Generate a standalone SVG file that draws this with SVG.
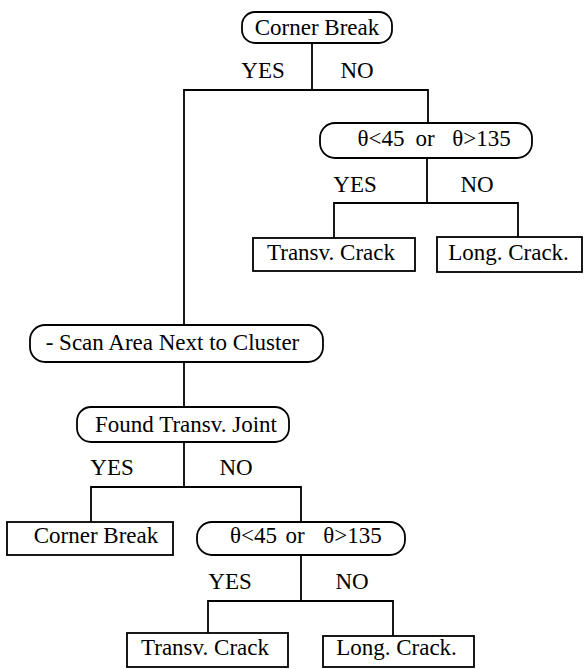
<svg xmlns="http://www.w3.org/2000/svg" width="585" height="669" viewBox="0 0 585 669">
  <style>
    .box { fill: #fff; stroke: #000; stroke-width: 1.8; }
    .wire { fill: none; stroke: #000; stroke-width: 1.8; stroke-linecap: square; }
    text { font-family: "Liberation Serif", "Times New Roman", serif; font-size: 23px; fill: #000; text-anchor: middle; }
  </style>
  <rect width="585" height="669" fill="#fff"/>

  <!-- connectors -->
  <g id="connectors" class="wire">
    <path d="M312,43 V90 M184,90 H428 M184,90 V325 M428,90 V123"/>
    <path d="M427,158 V203 M334,203 H518 M334,203 V238 M518,203 V237"/>
    <path d="M184,362 V407"/>
    <path d="M184,442 V487 M91,487 H301 M91,487 V522 M301,487 V522"/>
    <path d="M301,555 V601 M208,601 H393 M208,601 V633 M393,601 V636"/>
  </g>

  <!-- branch labels -->
  <g id="labels">
    <text x="263" y="78">YES</text><text x="357" y="78">NO</text>
    <text x="355" y="192">YES</text><text x="477" y="192">NO</text>
    <text x="112" y="475">YES</text><text x="236" y="475">NO</text>
    <text x="230" y="589">YES</text><text x="352" y="589">NO</text>
  </g>

  <g id="corner-break-test">
    <rect class="box" x="242" y="12" width="150" height="31" rx="13"/>
    <text x="317" y="35">Corner Break</text>
  </g>

  <g id="angle-test-1">
    <rect class="box" x="320" y="123" width="212" height="35" rx="15"/>
    <text y="146"><tspan x="381">θ&lt;45</tspan><tspan x="425">or</tspan><tspan x="481.5">θ&gt;135</tspan></text>
  </g>

  <g id="transv-crack-1">
    <rect class="box" x="253" y="238" width="162" height="33"/>
    <text x="331" y="260">Transv. Crack</text>
  </g>

  <g id="long-crack-1">
    <rect class="box" x="437" y="237" width="145" height="35"/>
    <text x="508.5" y="260">Long. Crack.</text>
  </g>

  <g id="scan-area">
    <rect class="box" x="30" y="325" width="293" height="37" rx="15"/>
    <text x="172.5" y="350">- Scan Area Next to Cluster</text>
  </g>

  <g id="found-joint">
    <rect class="box" x="77" y="407" width="212" height="35" rx="14"/>
    <text x="186" y="432">Found Transv. Joint</text>
  </g>

  <g id="corner-break-2">
    <rect class="box" x="7" y="522" width="166" height="33"/>
    <text x="96" y="543">Corner Break</text>
  </g>

  <g id="angle-test-2">
    <rect class="box" x="197" y="522" width="208" height="33" rx="15"/>
    <text y="543"><tspan x="253.5">θ&lt;45</tspan><tspan x="295">or</tspan><tspan x="352.5">θ&gt;135</tspan></text>
  </g>

  <g id="transv-crack-2">
    <rect class="box" x="127" y="633" width="161" height="34"/>
    <text x="205" y="655">Transv. Crack</text>
  </g>

  <g id="long-crack-2">
    <rect class="box" x="323" y="636" width="151" height="31"/>
    <text x="396.5" y="655">Long. Crack.</text>
  </g>
</svg>
